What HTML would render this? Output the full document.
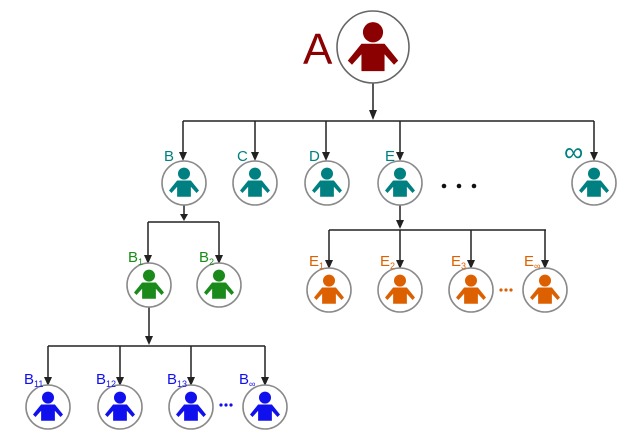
<!DOCTYPE html>
<html><head><style>
html,body{margin:0;padding:0;background:#fff;width:640px;height:440px;overflow:hidden}
svg{display:block}
text{font-family:"Liberation Sans",sans-serif}
</style></head><body>
<svg width="640" height="440" viewBox="0 0 640 440" xmlns="http://www.w3.org/2000/svg">
<defs>
<g id="p0">
<circle cx="0" cy="-7.5" r="4.8"/>
<path d="M-5.5,-2 H5.5 L12,6 L10,8 L5.5,3 V11 H-5.5 V3 L-10,8 L-12,6 Z" stroke-linejoin="round"/>
</g>
<g id="p"><use href="#p0" transform="scale(1.25)"/></g>
<g id="c"><circle r="22" fill="#fff" stroke="#8a8a8a" stroke-width="1.6"/></g>
</defs>
<g stroke="#222" stroke-width="1.5" fill="none">
<path d="M373 83 V118 M183 121 H594 M183 121 V158 M255 121 V158 M326 121 V158 M400 121 V158 M594 121 V158"/>
<path d="M184 205 V219 M148 222 H219 M148 222 V261 M219 222 V261"/>
<path d="M149 307 V343 M48 346 H265 M48 346 V383 M120 346 V383 M191 346 V383 M265 346 V383"/>
<path d="M400 205 V226 M329 230 H546 M329 230 V266 M400 230 V266 M471 230 V266 M545 230 V266"/>
</g>
<g fill="#222">
<path d="M369 110 L377 110 L373 120 Z"/>
<path d="M179 152 L187 152 L183 161 Z"/><path d="M251 152 L259 152 L255 161 Z"/><path d="M322 152 L330 152 L326 161 Z"/><path d="M396 152 L404 152 L400 161 Z"/><path d="M590 152 L598 152 L594 161 Z"/>
<path d="M180 214 L188 214 L184 221 Z"/>
<path d="M144 255 L152 255 L148 264 Z"/><path d="M215 255 L223 255 L219 264 Z"/>
<path d="M145 336 L153 336 L149 345 Z"/>
<path d="M44 377 L52 377 L48 386 Z"/><path d="M116 377 L124 377 L120 386 Z"/><path d="M187 377 L195 377 L191 386 Z"/><path d="M261 377 L269 377 L265 386 Z"/>
<path d="M396 220 L404 220 L400 229 Z"/>
<path d="M325 260 L333 260 L329 269 Z"/><path d="M396 260 L404 260 L400 269 Z"/><path d="M467 260 L475 260 L471 269 Z"/><path d="M541 260 L549 260 L545 269 Z"/>
</g>
<!-- A -->
<circle cx="373" cy="47" r="36" fill="#fff" stroke="#666" stroke-width="1.6"/>
<use href="#p0" transform="translate(373,48) scale(2.1)" fill="#8b0000"/>
<text x="303" y="64" font-size="44" fill="#8b0000">A</text>
<!-- level 1 -->
<g fill="#008080">
<use href="#c" x="184" y="183"/><use href="#p" x="184" y="183"/>
<use href="#c" x="255" y="183"/><use href="#p" x="255" y="183"/>
<use href="#c" x="327" y="183"/><use href="#p" x="327" y="183"/>
<use href="#c" x="400" y="183"/><use href="#p" x="400" y="183"/>
<use href="#c" x="594" y="183"/><use href="#p" x="594" y="183"/>
<g font-size="15">
<text x="164" y="161">B</text><text x="237" y="161">C</text><text x="309" y="161">D</text><text x="385" y="161">E</text>
</g>
<text x="564" y="161" font-size="27">∞</text>
</g>
<g fill="#111"><circle cx="444" cy="186" r="2.3"/><circle cx="459" cy="186" r="2.3"/><circle cx="474" cy="186" r="2.3"/></g>
<!-- B1,B2 -->
<g fill="#1a8a1a">
<use href="#c" x="149" y="285"/><use href="#p" x="149" y="285"/>
<use href="#c" x="219" y="285"/><use href="#p" x="219" y="285"/>
<text x="128" y="262" font-size="15">B<tspan font-size="9" dy="3">1</tspan></text>
<text x="199" y="262" font-size="15">B<tspan font-size="9" dy="3">2</tspan></text>
</g>
<!-- B11.. -->
<g fill="#1010ee">
<use href="#c" x="48" y="407"/><use href="#p" x="48" y="407"/>
<use href="#c" x="120" y="407"/><use href="#p" x="120" y="407"/>
<use href="#c" x="191" y="407"/><use href="#p" x="191" y="407"/>
<use href="#c" x="265" y="407"/><use href="#p" x="265" y="407"/>
<text x="24" y="384" font-size="15">B<tspan font-size="9" dy="3">11</tspan></text>
<text x="96" y="384" font-size="15">B<tspan font-size="9" dy="3">12</tspan></text>
<text x="167" y="384" font-size="15">B<tspan font-size="9" dy="3">13</tspan></text>
<text x="239" y="384" font-size="15">B<tspan font-size="9" dy="3">∞</tspan></text>
<circle cx="221" cy="405" r="1.6"/><circle cx="226" cy="405" r="1.6"/><circle cx="231" cy="405" r="1.6"/>
</g>
<!-- E1.. -->
<g fill="#dd6000">
<use href="#c" x="329" y="290"/><use href="#p" x="329" y="290"/>
<use href="#c" x="400" y="290"/><use href="#p" x="400" y="290"/>
<use href="#c" x="471" y="290"/><use href="#p" x="471" y="290"/>
<use href="#c" x="545" y="290"/><use href="#p" x="545" y="290"/>
<text x="309" y="266" font-size="15">E<tspan font-size="9" dy="3">1</tspan></text>
<text x="380" y="266" font-size="15">E<tspan font-size="9" dy="3">2</tspan></text>
<text x="451" y="266" font-size="15">E<tspan font-size="9" dy="3">3</tspan></text>
<text x="524" y="266" font-size="15">E<tspan font-size="9" dy="3">∞</tspan></text>
<circle cx="501" cy="290" r="1.6"/><circle cx="506" cy="290" r="1.6"/><circle cx="511" cy="290" r="1.6"/>
</g>
</svg>
</body></html>
